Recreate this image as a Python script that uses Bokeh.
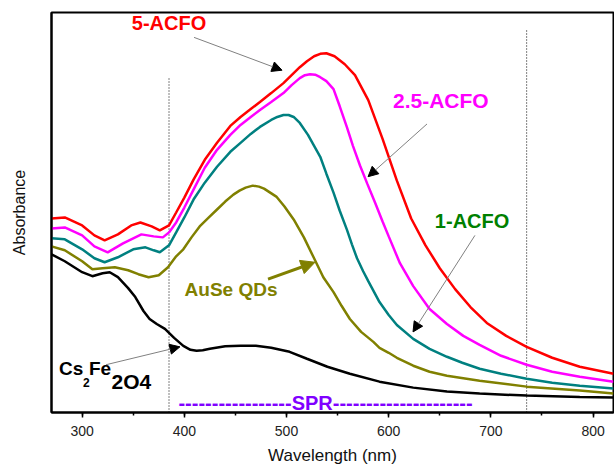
from bokeh.plotting import figure
from bokeh.models import Range1d, SingleIntervalTicker, Arrow, NormalHead, Label
from bokeh.embed import file_html
from bokeh.resources import INLINE

# ---------------- data ----------------
wl_5 = [270, 283, 300, 312, 322, 335, 348, 357, 368, 376, 385, 392, 400, 409, 420, 432, 445, 455,
        465, 474, 485, 497, 505, 513, 520, 527, 533, 539, 547, 557, 567, 580, 594, 608, 622, 636,
        650, 665, 680, 696, 715, 735, 760, 787, 820]
abs_5 = [1.95, 1.96, 1.88, 1.78, 1.73, 1.79, 1.88, 1.91, 1.87, 1.83, 1.88, 2.01, 2.16, 2.34, 2.54,
         2.71, 2.88, 2.97, 3.05, 3.12, 3.21, 3.31, 3.39, 3.47, 3.53, 3.58, 3.605, 3.61, 3.58, 3.50,
         3.39, 3.14, 2.75, 2.33, 1.95, 1.68, 1.45, 1.24, 1.06, 0.90, 0.77, 0.66, 0.55, 0.46, 0.39]

wl_25 = [270, 283, 300, 312, 325, 340, 358, 370, 379, 385, 392, 400, 409, 420, 432, 445, 455, 465,
         474, 485, 497, 505, 513, 518, 523, 528, 533, 539, 546, 552, 559, 565, 572, 579, 587, 594,
         600, 611, 624, 640, 657, 673, 689, 710, 735, 760, 787, 820]
abs_25 = [1.85, 1.86, 1.78, 1.67, 1.61, 1.70, 1.79, 1.77, 1.76, 1.81, 1.91, 2.06, 2.24, 2.46, 2.64,
          2.79, 2.89, 2.97, 3.04, 3.12, 3.21, 3.29, 3.36, 3.39, 3.40, 3.395, 3.37, 3.33, 3.25, 3.08,
          2.87, 2.68, 2.48, 2.30, 2.10, 1.92, 1.77, 1.50, 1.27, 1.04, 0.89, 0.77, 0.68, 0.57, 0.48,
          0.41, 0.36, 0.31]

wl_1 = [270, 283, 300, 312, 322, 335, 350, 362, 370, 376, 385, 392, 400, 409, 420, 432, 445, 455,
        465, 474, 485, 491, 497, 502, 507, 513, 521, 527, 533, 539, 546, 552, 559, 564, 569, 575,
        580, 591, 600, 608, 624, 640, 657, 672, 689, 710, 735, 760, 787, 820]
abs_1 = [1.75, 1.74, 1.64, 1.55, 1.51, 1.56, 1.64, 1.66, 1.63, 1.61, 1.68, 1.81, 1.96, 2.14, 2.31,
         2.47, 2.62, 2.71, 2.80, 2.87, 2.94, 2.97, 2.99, 2.99, 2.97, 2.91, 2.79, 2.68, 2.57, 2.40,
         2.21, 2.03, 1.84, 1.69, 1.55, 1.42, 1.32, 1.11, 0.98, 0.88, 0.74, 0.64, 0.56, 0.50, 0.44,
         0.39, 0.34, 0.30, 0.27, 0.24]

wl_ause = [270, 283, 300, 310, 320, 332, 345, 355, 365, 375, 384, 392, 399, 407, 415, 424, 432, 440,
           448, 454, 460, 467, 473, 478, 484, 490, 498, 507, 517, 526, 536, 546, 554, 562, 573, 585,
           591, 600, 608, 624, 640, 657, 689, 735, 787, 820]
abs_ause = [1.67, 1.63, 1.52, 1.44, 1.45, 1.46, 1.43, 1.39, 1.36, 1.38, 1.46, 1.57, 1.64, 1.76, 1.87,
            1.96, 2.04, 2.12, 2.19, 2.23, 2.26, 2.28, 2.27, 2.25, 2.21, 2.17, 2.07, 1.94, 1.76, 1.57,
            1.36, 1.21, 1.07, 0.94, 0.81, 0.71, 0.65, 0.60, 0.55, 0.47, 0.41, 0.37, 0.32, 0.26, 0.22,
            0.19]

wl_cfo = [270, 283, 300, 310, 320, 327, 335, 345, 352, 360, 366, 373, 381, 390, 399, 406, 412, 418,
          425, 440, 455, 470, 485, 503, 520, 540, 562, 591, 624, 657, 689, 735, 787, 820]
abs_cfo = [1.59, 1.52, 1.41, 1.37, 1.40, 1.41, 1.36, 1.25, 1.16, 1.02, 0.94, 0.89, 0.84, 0.75, 0.67,
           0.63, 0.62, 0.625, 0.64, 0.665, 0.67, 0.67, 0.65, 0.61, 0.54, 0.46, 0.39, 0.31, 0.25,
           0.21, 0.19, 0.17, 0.155, 0.15]

x_ticks_interval = 100
dotted_lines_x = [385, 735]
dotted_lines_top = [3.37, 3.85]

FONT = "Liberation Sans"

p = figure(width=614, height=467, output_backend="svg", toolbar_location=None,
           x_range=Range1d(270, 820), y_range=Range1d(0, 4.02),
           min_border_left=51, min_border_right=1, min_border_top=12, min_border_bottom=53)
p.background_fill_color = "white"
p.border_fill_color = "white"
p.xgrid.visible = False
p.ygrid.visible = False
p.outline_line_color = "black"
p.outline_line_width = 2

# x axis
p.xaxis.ticker = SingleIntervalTicker(interval=x_ticks_interval, num_minor_ticks=2)
p.xaxis.axis_line_width = 2
p.xaxis.major_tick_out = 5
p.xaxis.major_tick_in = 0
p.xaxis.minor_tick_out = 3
p.xaxis.minor_tick_in = 0
p.xaxis.major_tick_line_width = 1.5
p.xaxis.minor_tick_line_width = 1.5
p.xaxis.major_label_text_font = FONT
p.xaxis.major_label_text_font_size = "14px"
p.xaxis.major_label_text_color = "#222222"
p.xaxis.major_label_standoff = 8
p.xaxis.axis_label = "Wavelength (nm)"
p.xaxis.axis_label_text_font = FONT
p.xaxis.axis_label_text_font_size = "17px"
p.xaxis.axis_label_text_font_style = "normal"
p.xaxis.axis_label_text_color = "#111111"
p.xaxis.axis_label_standoff = 7

# y axis
p.yaxis.ticker = []
p.yaxis.axis_line_width = 2
p.yaxis.axis_label = "Absorbance"
p.yaxis.axis_label_text_font = FONT
p.yaxis.axis_label_text_font_size = "16px"
p.yaxis.axis_label_text_font_style = "normal"
p.yaxis.axis_label_text_color = "#111111"
p.yaxis.axis_label_standoff = 24

# dotted reference lines
for xv, top in zip(dotted_lines_x, dotted_lines_top):
    p.line([xv, xv], [0, top], line_color="black", line_width=1, line_dash="1 2")

# curves
LW = 2.5
p.line(wl_cfo, abs_cfo, line_color="black", line_width=LW)
p.line(wl_ause, abs_ause, line_color="#808000", line_width=LW)
p.line(wl_1, abs_1, line_color="#008080", line_width=LW)
p.line(wl_25, abs_25, line_color="#FF00FF", line_width=LW)
p.line(wl_5, abs_5, line_color="#FF0000", line_width=LW)

def lab(x, y, t, color, size, align="center"):
    p.add_layout(Label(x=x, y=y, text=t, text_color=color, text_font=FONT,
                       text_font_size=size, text_font_style="bold",
                       text_align=align, text_baseline="middle"))

lab(385, 3.91, "5-ACFO", "#FF0000", "20px")
lab(651, 3.135, "2.5-ACFO", "#FF00FF", "21px")
lab(681.6, 1.925, "1-ACFO", "#008000", "20px")
lab(445.7, 1.235, "AuSe QDs", "#808000", "19px")
lab(538.2, 0.10, "-----------------SPR---------------------", "#8000FF", "20px")
lab(277.3, 0.44, "Cs", "black", "19px", "left")
lab(300.8, 0.30, "2", "black", "12px", "left")
lab(306.7, 0.44, "Fe", "black", "19px", "left")
lab(328.8, 0.315, "2O4", "black", "21px", "left")

def arrow(x0, y0, x1, y1, color="gray", head="black", lw=1, size=10):
    p.add_layout(Arrow(end=NormalHead(size=size, fill_color=head, line_color=head),
                       x_start=x0, y_start=y0, x_end=x1, y_end=y1,
                       line_color=color, line_width=lw))

arrow(409.5, 3.77, 495.6, 3.44)
arrow(637.5, 2.90, 579.8, 2.37)
arrow(684.4, 1.78, 623.8, 0.81)
arrow(323.3, 0.48, 395.7, 0.66)
arrow(481.9, 1.34, 527.9, 1.51, color="#808000", head="#808000", lw=3, size=14)

open("out.html", "w").write(file_html(p, INLINE))
